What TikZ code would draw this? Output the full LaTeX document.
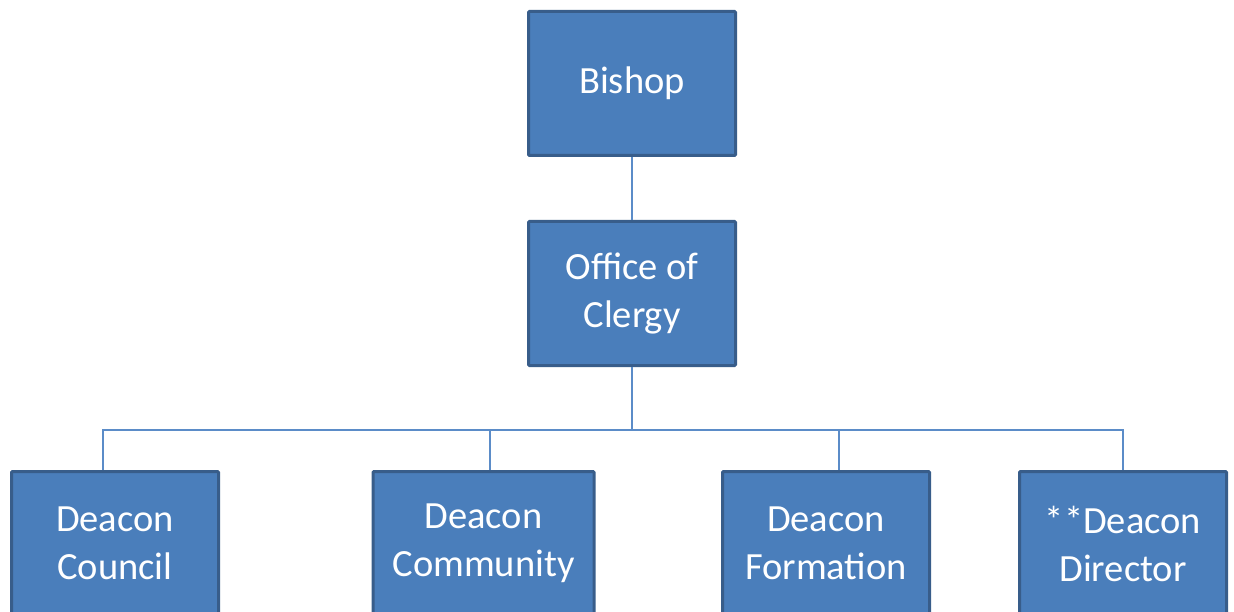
\documentclass[tikz,border=0pt]{standalone}
\usepackage{fontspec}
\setmainfont{Carlito}
\usepackage{tikz}
\usetikzlibrary{positioning}
\definecolor{boxblue}{HTML}{4A7EBB}
\definecolor{boxedge}{HTML}{385D8A}
\definecolor{linkblue}{HTML}{5B8CC8}

\begin{document}
\begin{tikzpicture}[x=1pt,y=-1pt,
  box/.style={draw=boxedge, fill=boxblue, line width=3pt, rounded corners=1pt,
    minimum width=207pt, minimum height=144pt, align=center, text=white,
    font=\fontsize{38.5}{48}\selectfont, inner sep=0pt},
  link/.style={linkblue, line width=1.8pt}]

\useasboundingbox (0,0) rectangle (1234,612);
\clip (0,0) rectangle (1234,612);

\node[box] (bishop) at (632,83.5) {Bishop};
\node[box] (office) at (632,293.5) {Office of\\Clergy};

\node[box] (council)   at (115,543.5)  {Deacon\\Council};
\node[box, minimum width=221pt] (community) at (483.5,543.5) {Deacon\\Community};
\node[box] (formation) at (826,543.5)  {Deacon\\Formation};
\node[box] (director)  at (1123,543.5) {**Deacon\\Director};

% connectors
\draw[link] (bishop.south) -- (office.north);
\draw[link] (office.south) -- ++(0,63) -| ([xshift=-12pt]council.north);
\draw[link] (office.south) -- ++(0,63) -| ([xshift=6.5pt]community.north);
\draw[link] (office.south) -- ++(0,63) -| ([xshift=13pt]formation.north);
\draw[link] (office.south) -- ++(0,63) -| (director.north);

\end{tikzpicture}
\end{document}
